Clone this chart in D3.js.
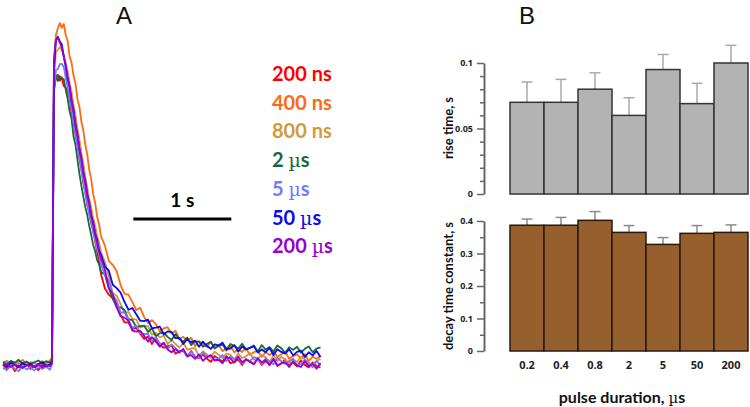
<!DOCTYPE html>
<html><head><meta charset="utf-8">
<script src="https://cdn.jsdelivr.net/npm/d3@7"></script>
<style>body{margin:0;background:#fff}svg{display:block}</style>
</head><body>
<script>
// ---------- Panel A data: normalized fluorescence traces ----------
const tTrace = [0,0.04,0.08,0.12,0.16,0.2,0.24,0.28,0.32,0.36,0.4,0.44,0.48,0.5,
0.52,0.54,0.56,0.58,0.6,0.62,0.64,0.66,0.68,0.7,0.72,0.74,0.76,0.78,0.8,0.82,0.84,0.86,0.88,0.9,0.92,0.94,0.96,0.98,1,
1.04,1.08,1.12,1.16,1.2,1.24,1.28,1.32,1.36,1.4,1.44,1.48,1.52,1.56,1.6,1.64,1.68,1.72,1.76,1.8,1.84,1.88,1.92,1.96,2,2.04,2.08,2.12,2.16,2.2,2.24,2.28,2.32,2.36,2.4,2.44,2.48,2.52,2.56,2.6,2.64,2.68,2.72,2.76,2.8,2.84,2.88,2.92,2.96,3,3.04,3.08,3.12,3.16,3.2,3.24];

const trace200ns = [0.3,-0.8,0.5,-1.5,0.2,-0.6,0.8,-0.9,0.1,-1.2,0.4,-0.3,0.6,1.0,
80.5,84.1,84.9,83.2,84.2,81.6,81.2,79.6,77.9,73.7,71.4,67.3,64.4,60.3,57.4,53.3,50.7,46.9,44.8,41.7,39.7,36.4,33.5,30.5,26.8,
22.6,20.8,19.7,18.2,14.9,12.7,12.7,10.8,11.1,9.4,7.9,8.6,6.4,8.0,6.1,5.3,5.8,6.0,3.6,4.3,4.5,2.8,4.4,2.7,2.2,3.3,2.2,1.2,2.9,2.0,1.3,2.9,0.8,1.2,1.9,0.3,2.0,1.3,0.6,2.2,0.3,1.4,0.7,1.8,0.0,0.7,2.0,0.2,1.0,-0.1,1.6,0.3,-0.4,1.1,0.0,-0.5];

const trace400ns = [0.8,1.5,0.2,1.2,0.6,1.8,0.4,1.1,0.9,0.3,1.4,0.7,1.6,2.5,
89,96.5,98.5,100,98.6,99.7,96.5,94.8,90.2,88.4,84.6,82.3,77.8,75.6,71.2,68.6,64.5,61.6,57.2,54.5,50.1,47.6,43.6,41.4,37.9,
35.1,30.6,29.5,27.6,23.6,21.0,20.8,18.7,16.3,17.0,14.3,12.5,13.4,12.2,10.1,11.0,11.3,9.5,10.3,7.8,8.5,7.5,8.2,5.8,7.2,6.4,5.5,7.0,5.3,6.1,4.3,5.3,5.8,4.0,4.9,4.1,5.2,3.2,4.0,4.5,2.6,4.1,3.2,4.2,2.7,3.4,4.2,2.1,2.9,3.4,2.2,3.5,1.5,2.7,2.1,2.9];

const trace800ns = [0.5,0.1,0.9,0.3,1.2,0.2,0.7,0.5,1.0,0.2,0.8,0.4,0.6,1.5,
84.8,91.5,92.2,93.0,91.9,90.9,88.4,85.9,82.6,79.8,76.2,73.1,69.2,66.1,62.2,59.1,55.2,52.1,48.8,46.3,43.2,41.0,38.0,36.1,33.3,
30.4,26.0,21.2,20.5,18.1,15.4,15.8,13.7,13.6,11.2,11.6,11.6,9.1,9.7,8.3,8.9,6.4,7.6,6.4,5.4,6.7,4.8,5.1,5.2,2.9,4.3,3.4,2.4,4.2,3.3,2.3,3.6,3.3,1.9,3.7,2.3,2.8,3.8,1.8,2.3,3.1,2.6,1.1,3.1,1.4,2.7,1.8,0.8,2.0,1.2,2.6,2.0,0.4,0.6,1.5,2.1];

const trace2us = [1.2,0.6,1.5,0.9,1.8,0.7,1.3,0.5,1.1,1.6,0.8,1.4,0.9,1.8,
80.5,84.8,83.1,84.5,83.7,83.6,80.6,77.9,74.2,72.0,66.9,64.4,60.2,56.0,52.5,49.3,46.3,44.0,40.8,38.2,35.3,33.5,30.9,29.7,27.4,
26.7,22.7,19.6,17.2,17.1,16.3,13.7,13.4,11.3,11.6,11.8,9.9,11.0,8.6,9.6,9.7,8.5,7.6,9.3,7.9,7.1,8.3,6.1,7.2,7.1,5.6,6.4,7.1,5.1,5.8,6.3,4.5,6.4,5.8,5.1,6.5,4.8,5.3,6.0,4.2,6.1,4.8,5.5,4.2,6.0,5.2,3.8,5.5,4.7,5.6,3.9,5.0,5.7,4.0,5.1,5.4];

const trace5us = [-0.5,-1.2,0.2,-0.8,-1.5,0.1,-1.0,-0.4,-1.3,0.0,-0.9,-0.2,-1.1,0.5,
80.5,86.3,86.6,88.0,88.1,87.2,84.0,81.3,77.8,74.9,70.8,67.9,63.8,60.9,56.8,53.9,50.1,47.5,44.0,42.0,38.8,37.0,34.1,32.4,29.7,
26.4,24.9,20.7,19.0,15.6,15.6,13.5,11.1,11.8,9.6,9.3,9.4,7.1,8.5,6.5,6.6,5.0,6.3,5.2,4.2,4.6,2.7,4.2,2.8,2.3,3.9,2.9,3.0,1.5,2.2,3.2,1.4,2.8,2.0,2.5,0.7,2.0,1.4,2.6,2.2,0.6,2.2,1.3,0.5,2.4,1.4,0.6,1.5,2.1,0.2,0.6,1.8,1.0,-0.4,1.5,0.1];

const trace50us = [0.6,-0.2,1.0,0.3,-0.4,0.9,0.1,0.7,-0.3,0.5,1.1,0.0,0.4,1.2,
86.3,95,96,94.6,93.8,90.2,87.3,83.6,81.4,77.2,74.5,70.1,67.4,63.1,60.5,56.5,53.9,50.0,47.5,43.9,42.0,38.7,36.8,33.8,32.4,
29.0,27.8,23.7,22.7,21.4,18.7,16.4,16.9,15.1,13.2,13.1,13.5,11.0,11.2,11.5,9.2,10.1,9.9,8.1,8.2,6.4,7.8,6.9,7.4,5.6,7.1,5.9,5.0,6.3,6.0,6.8,4.9,5.1,6.1,4.2,5.7,4.8,5.3,5.8,3.9,4.8,4.0,5.3,3.2,4.9,4.1,3.6,4.9,3.1,4.1,4.5,2.6,4.0,3.1,4.4,2.6];

const trace200us = [0.2,0.5,-0.3,0.4,0.0,-0.5,0.3,0.1,-0.2,0.6,-0.4,0.2,0.0,0.8,
89.2,95.0,95.6,94.3,92.9,90.2,87.7,84.1,81.2,77.4,74.2,70.4,67.2,63.4,60.3,56.4,53.3,49.7,47.1,43.8,41.3,38.3,36.1,33.3,31.4,
28.0,22.7,20.9,17.1,14.5,14.1,13.2,10.3,10.0,10.3,8.8,7.1,8.4,7.1,5.6,6.8,4.8,4.0,4.9,3.9,5.0,2.9,3.2,2.1,3.4,1.5,2.5,3.2,1.7,1.8,0.8,2.5,2.2,1.0,2.8,1.1,1.9,1.2,0.5,2.2,1.1,1.7,0.2,2.1,0.2,0.8,1.1,-0.3,1.3,0.2,-0.3,1.4,-0.1,0.6,-0.8,0.9];

const legendNum  = ["200","400","800","2","5","50","200"];
const legendUnit = ["ns","ns","ns","µs","µs","µs","µs"];
const traceColors = ["#ff0000","#ff6a13","#d29a3a","#17693a","#7777ff","#0a0af5","#9a00d2"];
const traces = [trace200ns,trace400ns,trace800ns,trace2us,trace5us,trace50us,trace200us];
const scaleBarSec = 1;

// ---------- Panel B data ----------
const categories = ["0.2","0.4","0.8","2","5","50","200"];
const riseMean  = [0.070,0.070,0.080,0.060,0.095,0.069,0.100];
const riseErr   = [0.0155,0.0175,0.0125,0.0135,0.0115,0.0155,0.0135];
const decayMean = [0.387,0.387,0.402,0.365,0.328,0.362,0.365];
const decayErr  = [0.019,0.024,0.027,0.021,0.021,0.024,0.023];
const riseMajor = [0,0.05,0.1];
const riseMajorLabels = ["0","0.05","0.1"];
const riseMinor = [0.01,0.02,0.03,0.04,0.06,0.07,0.08,0.09];
const decayMajor = [0,0.1,0.2,0.3,0.4];
const decayMajorLabels = ["0","0.1","0.2","0.3","0.4"];
const decayMinor = [0.05,0.15,0.25,0.35];

const W = 750, H = 407;
const svg = d3.select("body").append("svg").attr("width",W).attr("height",H)
  .style("font-family","Lato, 'Open Sans', sans-serif");
svg.append("rect").attr("width",W).attr("height",H).attr("fill","#fff");

// ---------- Panel A ----------
const xA = d3.scaleLinear().domain([0,3.24]).range([3,320.5]);
const yA = d3.scaleLinear().domain([0,100]).range([366,23]);
const lineA = d3.line().x(d=>xA(d[0])).y(d=>yA(d[1]));
traces.forEach((tr,i)=>{
  const pts = tr.map((v,j)=>[tTrace[j],v]).filter(d=>d[0]!==undefined);
  svg.append("path").attr("d",lineA(pts)).attr("fill","none")
    .attr("stroke",traceColors[i]).attr("stroke-width",1.8).attr("stroke-linejoin","round");
});
svg.append("text").attr("x",124).attr("y",24).attr("text-anchor","middle")
  .attr("font-family","'Liberation Sans', Arial, sans-serif")
  .attr("font-size",24).attr("fill","#111").text("A");

// scale bar
svg.append("line").attr("x1",xA(1.33)).attr("x2",xA(1.33+scaleBarSec))
  .attr("y1",219).attr("y2",219).attr("stroke","#000").attr("stroke-width",3.2);
svg.append("text").attr("x",(xA(1.33)+xA(1.33+scaleBarSec))/2).attr("y",207)
  .attr("text-anchor","middle").attr("font-size",19).attr("font-weight",700).text(scaleBarSec+" s");

// legend
legendNum.forEach((n,i)=>{
  const t = svg.append("text").attr("x",272).attr("y",81+i*28.7)
    .attr("font-size",20).attr("font-weight",700).attr("fill",traceColors[i]);
  t.append("tspan").text(n+" ");
  if (legendUnit[i]==="µs") {
    t.append("tspan").attr("font-weight",400).attr("font-family","'DejaVu Serif', serif").attr("font-size",19).text("µ");
    t.append("tspan").text("s");
  } else {
    t.append("tspan").text(legendUnit[i]);
  }
});

// ---------- Panel B ----------
const xB = d3.scaleBand().domain(categories).range([510,748]).padding(0);
const yTop = d3.scaleLinear().domain([0,0.1]).range([194,63]);
const yBot = d3.scaleLinear().domain([0,0.4]).range([351,221]);
const axisX = 484;

svg.append("text").attr("x",527).attr("y",24).attr("text-anchor","middle")
  .attr("font-family","'Liberation Sans', Arial, sans-serif")
  .attr("font-size",24).attr("fill","#111").text("B");

function panel(y, mean, err, fill, stroke, errColor, major, majorLabels, minor, label, labelY){
  const g = svg.append("g");
  mean.forEach((m,i)=>{
    const cx = xB(categories[i]) + xB.bandwidth()/2;
    g.append("line").attr("x1",cx).attr("x2",cx).attr("y1",y(m)).attr("y2",y(m+err[i]))
      .attr("stroke",errColor).attr("stroke-width",1.5);
    g.append("line").attr("x1",cx-5.5).attr("x2",cx+5.5).attr("y1",y(m+err[i])).attr("y2",y(m+err[i]))
      .attr("stroke",errColor).attr("stroke-width",1.5);
  });
  g.selectAll("rect.bar").data(mean).enter().append("rect")
    .attr("x",(d,i)=>xB(categories[i])).attr("width",xB.bandwidth())
    .attr("y",d=>y(d)).attr("height",d=>y(0)-y(d))
    .attr("fill",fill).attr("stroke",stroke).attr("stroke-width",1.5);
  const minorAx = g.append("g").attr("transform",`translate(${axisX},0)`)
    .call(d3.axisLeft(y).tickValues(minor).tickSize(4).tickSizeOuter(0).tickFormat(""));
  minorAx.select(".domain").remove();
  minorAx.selectAll("line").attr("stroke","#666").attr("stroke-width",1.5);
  const majorAx = g.append("g").attr("transform",`translate(${axisX},0)`)
    .call(d3.axisLeft(y).tickValues(major).tickSize(7).tickSizeOuter(0).tickPadding(4)
      .tickFormat((d,i)=>majorLabels[i]));
  majorAx.select(".domain").attr("stroke","#666").attr("stroke-width",2);
  majorAx.selectAll("line").attr("stroke","#666").attr("stroke-width",1.5);
  majorAx.selectAll("text").attr("font-family","'Open Sans', sans-serif").attr("font-weight",700)
    .attr("font-size",9).attr("fill","#222");
  svg.append("text").attr("transform",`translate(453,${labelY}) rotate(-90)`)
    .attr("text-anchor","middle").attr("font-size",13).attr("font-weight",700).attr("fill","#111").text(label);
}
panel(yTop, riseMean, riseErr, "#b3b3b3", "#333", "#a9a9a9", riseMajor, riseMajorLabels, riseMinor, "rise time, s", 128);
panel(yBot, decayMean, decayErr, "#955f2e", "#2b1a0c", "#8a8a8a", decayMajor, decayMajorLabels, decayMinor, "decay time constant, s", 286);

categories.forEach(c=>{
  svg.append("text").attr("x",xB(c)+xB.bandwidth()/2).attr("y",369)
    .attr("text-anchor","middle").attr("font-family","'Open Sans', sans-serif")
    .attr("font-weight",700).attr("font-size",11).attr("fill","#222").text(c);
});
const xl = svg.append("text").attr("x",622).attr("y",403).attr("text-anchor","middle")
  .attr("font-size",16).attr("font-weight",700).attr("fill","#111");
xl.append("tspan").text("pulse duration, ");
xl.append("tspan").attr("font-weight",400).attr("font-family","'DejaVu Serif', serif").attr("font-size",15).text("µ");
xl.append("tspan").text("s");
</script>
</body></html>
